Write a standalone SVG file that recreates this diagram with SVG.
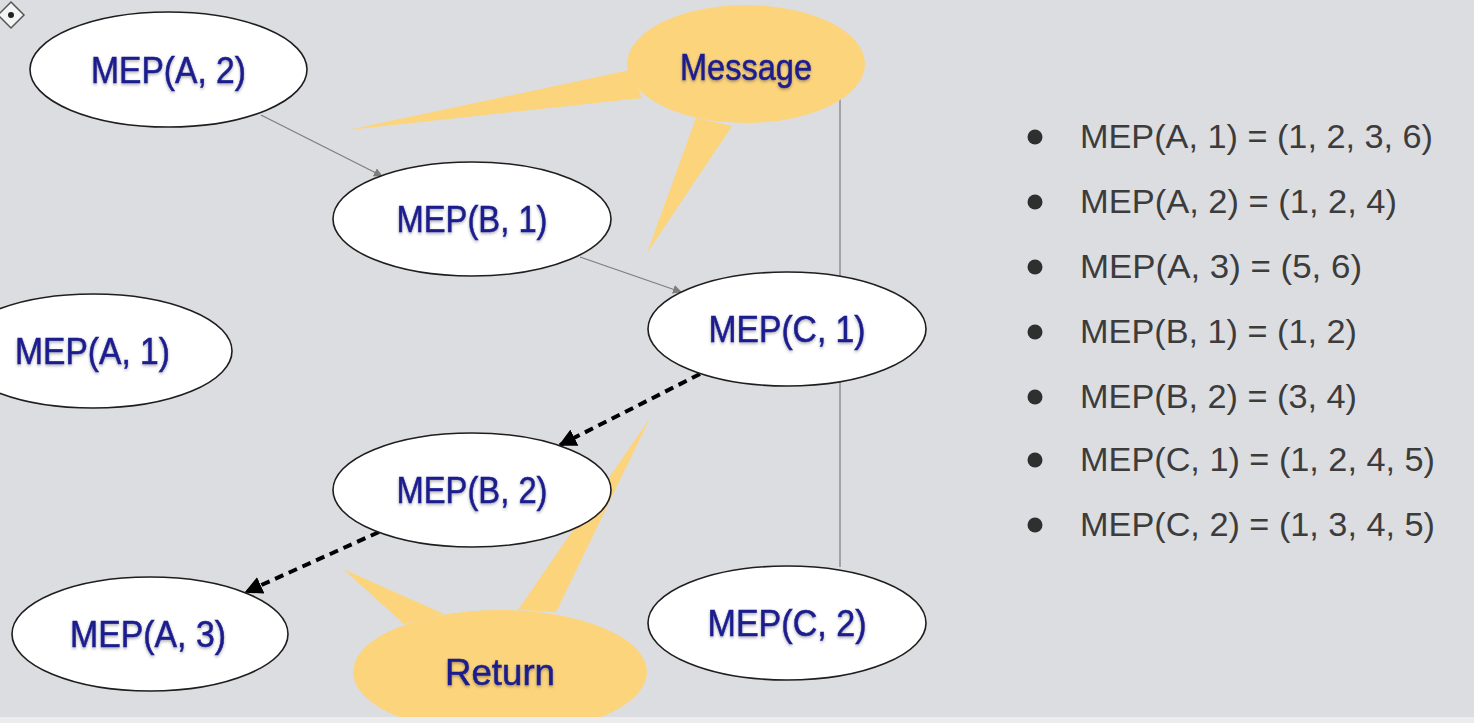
<svg xmlns="http://www.w3.org/2000/svg" width="1474" height="723" viewBox="0 0 1474 723">
<style>
.node ellipse { fill: #ffffff; stroke: #1e1e1e; stroke-width: 1.6; }
.lbl { font-family: "Liberation Sans", Arial, sans-serif; font-size: 36px; fill: #1b1d8e; stroke: #1b1d8e; stroke-width: 0.5; text-anchor: middle; filter: url(#glow); }
.bubble { fill: #fcd47c; }
.list text { font-family: "Liberation Sans", Arial, sans-serif; font-size: 33px; fill: #3c3c3c; }
.list circle { fill: #2f2f2f; }
.thin { stroke: #7d7d7d; stroke-width: 1.2; fill: none; }
.dash { stroke: #000; stroke-width: 4; stroke-dasharray: 9 6; fill: none; }
</style>
<defs>
<filter id="glow" x="-10%" y="-30%" width="120%" height="160%">
<feDropShadow dx="0" dy="1.5" stdDeviation="1.6" flood-color="#000" flood-opacity="0.35"/>
</filter>
<marker id="grayArrow" viewBox="0 0 10 10" refX="9" refY="5" markerWidth="9" markerHeight="9" markerUnits="userSpaceOnUse" orient="auto">
<path d="M0,0 L10,5 L0,10 Z" fill="#7d7d7d"/>
</marker>
<marker id="blackArrow" viewBox="0 0 10 10" refX="9" refY="5" markerWidth="18" markerHeight="18" markerUnits="userSpaceOnUse" orient="auto">
<path d="M0,0 L10,5 L0,10 Z" fill="#000"/>
</marker>
</defs>
<rect x="0" y="0" width="1474" height="723" fill="#dcdde1"/>

<g id="icon">
<path d="M11,2 L24,15 L11,28 L-2,15 Z" fill="#f4f4f4" stroke="#555" stroke-width="1.5"/>
<circle cx="11" cy="15" r="3" fill="#222"/>
</g>

<g id="connectors">
<line class="thin" x1="840" y1="70" x2="840" y2="567"/>
<line class="thin" x1="261" y1="115" x2="382" y2="176" marker-end="url(#grayArrow)"/>
<line class="thin" x1="580" y1="257" x2="681" y2="292" marker-end="url(#grayArrow)"/>
<line class="dash" x1="700" y1="374" x2="560" y2="445" marker-end="url(#blackArrow)"/>
<line class="dash" x1="379" y1="532" x2="246" y2="592" marker-end="url(#blackArrow)"/>
</g>

<g id="return-bubble">
<path class="bubble" d="M343,569 L444,614 L404,624 Z"/>
<path class="bubble" d="M650,418 L556,612 L518,610 Z"/>
<ellipse class="bubble" cx="500" cy="672" rx="147" ry="62"/>
<text class="lbl" x="500" y="685" textLength="110" lengthAdjust="spacingAndGlyphs">Return</text>
</g>
<rect x="0" y="717" width="1474" height="6" fill="#ececee"/>

<g id="message-bubble">
<path class="bubble" d="M348,130 L630,70 L642,98 Z"/>
<path class="bubble" d="M647,253 L696,118 L732,126 Z"/>
<ellipse class="bubble" cx="746" cy="64" rx="119" ry="59"/>
<text class="lbl" x="746" y="80" textLength="132" lengthAdjust="spacingAndGlyphs">Message</text>
</g>

<g id="node-A2" class="node">
<ellipse cx="168.5" cy="69.5" rx="138.5" ry="57.5"/>
<text class="lbl" x="168.5" y="83" textLength="155" lengthAdjust="spacingAndGlyphs">MEP(A, 2)</text>
</g>
<g id="node-B1" class="node">
<ellipse cx="472" cy="219" rx="139" ry="57"/>
<text class="lbl" x="472" y="232" textLength="151" lengthAdjust="spacingAndGlyphs">MEP(B, 1)</text>
</g>
<g id="node-C1" class="node">
<ellipse cx="787" cy="329" rx="139" ry="57"/>
<text class="lbl" x="787" y="342" textLength="157" lengthAdjust="spacingAndGlyphs">MEP(C, 1)</text>
</g>
<g id="node-A1" class="node">
<ellipse cx="93" cy="351" rx="139" ry="57"/>
<text class="lbl" x="92.5" y="364" textLength="155" lengthAdjust="spacingAndGlyphs">MEP(A, 1)</text>
</g>
<g id="node-B2" class="node">
<ellipse cx="472" cy="490" rx="139" ry="57"/>
<text class="lbl" x="472" y="503" textLength="151" lengthAdjust="spacingAndGlyphs">MEP(B, 2)</text>
</g>
<g id="node-A3" class="node">
<ellipse cx="150" cy="634" rx="138" ry="57"/>
<text class="lbl" x="148" y="647" textLength="156" lengthAdjust="spacingAndGlyphs">MEP(A, 3)</text>
</g>
<g id="node-C2" class="node">
<ellipse cx="787" cy="623" rx="139" ry="57"/>
<text class="lbl" x="787" y="636" textLength="159" lengthAdjust="spacingAndGlyphs">MEP(C, 2)</text>
</g>

<g id="list" class="list">
<circle cx="1035" cy="137" r="7.5"/>
<text x="1080" y="148" textLength="353" lengthAdjust="spacingAndGlyphs">MEP(A, 1) = (1, 2, 3, 6)</text>
<circle cx="1035" cy="202" r="7.5"/>
<text x="1080" y="213" textLength="317" lengthAdjust="spacingAndGlyphs">MEP(A, 2) = (1, 2, 4)</text>
<circle cx="1035" cy="267" r="7.5"/>
<text x="1080" y="278" textLength="282" lengthAdjust="spacingAndGlyphs">MEP(A, 3) = (5, 6)</text>
<circle cx="1035" cy="332" r="7.5"/>
<text x="1080" y="343" textLength="277" lengthAdjust="spacingAndGlyphs">MEP(B, 1) = (1, 2)</text>
<circle cx="1035" cy="397" r="7.5"/>
<text x="1080" y="408" textLength="277" lengthAdjust="spacingAndGlyphs">MEP(B, 2) = (3, 4)</text>
<circle cx="1035" cy="460" r="7.5"/>
<text x="1080" y="471" textLength="355" lengthAdjust="spacingAndGlyphs">MEP(C, 1) = (1, 2, 4, 5)</text>
<circle cx="1035" cy="525" r="7.5"/>
<text x="1080" y="536" textLength="355" lengthAdjust="spacingAndGlyphs">MEP(C, 2) = (1, 3, 4, 5)</text>
</g>
</svg>
